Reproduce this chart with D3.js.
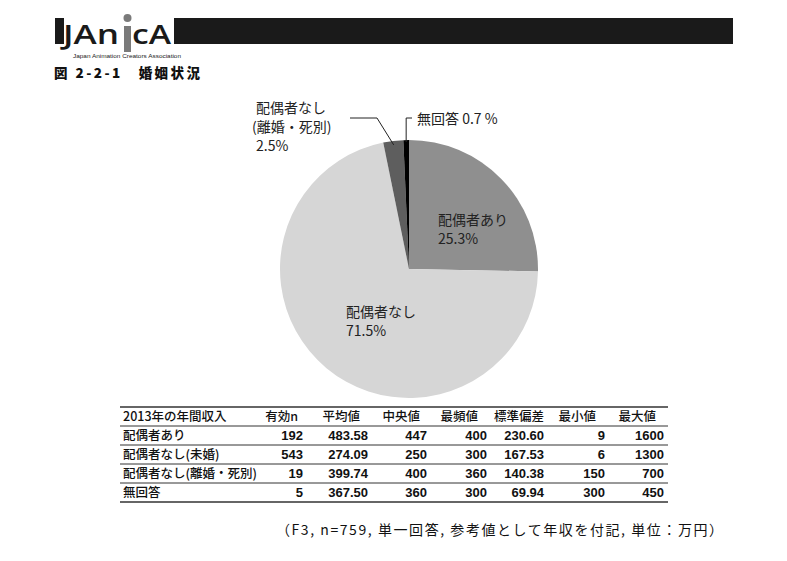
<!DOCTYPE html>
<html><head><meta charset="utf-8">
<script src="https://cdn.jsdelivr.net/npm/d3@7"></script>
<style>html,body{margin:0;padding:0;background:#fff;}svg{display:block;}</style>
</head><body>
<script>
// ---- data ----
const sliceLabels = ["配偶者あり", "配偶者なし", "配偶者なし\n(離婚・死別)", "無回答"];
const sliceValues = [25.3, 71.5, 2.5, 0.7];
const sliceColors = ["#8f8f8f", "#d6d6d6", "#5e5e5e", "#000000"];

const tableHeaders = ["2013年の年間収入", "有効n", "平均値", "中央値", "最頻値", "標準偏差", "最小値", "最大値"];
const rowLabels = ["配偶者あり", "配偶者なし(未婚)", "配偶者なし(離婚・死別)", "無回答"];
const colN      = ["192", "543", "19", "5"];
const colMean   = ["483.58", "274.09", "399.74", "367.50"];
const colMedian = ["447", "250", "400", "360"];
const colMode   = ["400", "300", "360", "300"];
const colSD     = ["230.60", "167.53", "140.38", "69.94"];
const colMin    = ["9", "6", "150", "300"];
const colMax    = ["1600", "1300", "700", "450"];

const titleText = "図 2-2-1　婚姻状況";
const noteText = "（F3, n=759, 単一回答, 参考値として年収を付記, 単位：万円）";

// ---- drawing ----
const W = 787, H = 561;
const svg = d3.select("body").append("svg").attr("width", W).attr("height", H);
const jp = "'Noto Sans CJK JP', 'Noto Sans', sans-serif";

// header logo + bar
const hdr = svg.append("g");
hdr.append("rect").attr("x", 55).attr("y", 18).attr("width", 9).attr("height", 26).attr("fill", "#1a1a1a");
hdr.append("rect").attr("x", 174).attr("y", 18).attr("width", 559).attr("height", 26).attr("fill", "#1a1a1a");
hdr.append("text").attr("x", 63).attr("y", 44).attr("font-family", "'Open Sans', sans-serif")
  .attr("font-size", 27).attr("font-weight", 600).attr("fill", "#1a1a1a")
  .attr("textLength", 56).attr("lengthAdjust", "spacingAndGlyphs").text("JAn");
hdr.append("rect").attr("x", 124).attr("y", 26).attr("width", 7).attr("height", 26).attr("fill", "#7a7a7a");
hdr.append("circle").attr("cx", 127.5).attr("cy", 18).attr("r", 4).attr("fill", "#7a7a7a");
hdr.append("text").attr("x", 132).attr("y", 44).attr("font-family", "'Open Sans', sans-serif")
  .attr("font-size", 27).attr("font-weight", 600).attr("fill", "#1a1a1a")
  .attr("textLength", 39).attr("lengthAdjust", "spacingAndGlyphs").text("cA");
hdr.append("text").attr("x", 73).attr("y", 58).attr("font-family", "'Liberation Sans Narrow', 'Liberation Sans', sans-serif")
  .attr("font-size", 6).attr("fill", "#222")
  .attr("textLength", 108).attr("lengthAdjust", "spacingAndGlyphs").text("Japan Animation Creators Association");

// title
svg.append("text").attr("x", 54).attr("y", 78).attr("font-family", jp).attr("font-weight", 900)
  .attr("font-size", 13.5).attr("fill", "#111").attr("textLength", 146).attr("lengthAdjust", "spacing").text(titleText);

// pie
const cx = 409, cy = 269, R = 129;
const pie = d3.pie().sort(null).value(d => d)(sliceValues);
const arc = d3.arc().innerRadius(0).outerRadius(R);
const pg = svg.append("g").attr("transform", `translate(${cx},${cy})`);
pg.selectAll("path").data(pie).join("path").attr("d", arc).attr("fill", (d, i) => sliceColors[i]);

const fmt = v => d3.format(".1f")(v) + "%";
const LF = 14;
// inside labels
const inside = [{i: 0, x: 438, y: 225}, {i: 1, x: 346, y: 317}];
inside.forEach(o => {
  const t = svg.append("text").attr("font-family", jp).attr("font-size", LF).attr("fill", "#222");
  t.append("tspan").attr("x", o.x).attr("y", o.y).text(sliceLabels[o.i]);
  t.append("tspan").attr("x", o.x).attr("y", o.y + 19).text(fmt(sliceValues[o.i]));
});

// outside label: 離婚・死別
const a2 = pie[2], m2 = (a2.startAngle + a2.endAngle) / 2;
const p2 = [cx + Math.sin(m2) * (R - 4), cy - Math.cos(m2) * (R - 4)];
svg.append("polyline").attr("points", `350,118 377,118 ${p2[0]},${p2[1]}`)
  .attr("fill", "none").attr("stroke", "#222").attr("stroke-width", 1);
const t2 = svg.append("text").attr("font-family", jp).attr("font-size", LF).attr("fill", "#222");
const l2 = sliceLabels[2].split("\n");
t2.append("tspan").attr("x", 256).attr("y", 113).text(l2[0]);
t2.append("tspan").attr("x", 252).attr("y", 132).text(l2[1]);
t2.append("tspan").attr("x", 256).attr("y", 151).text(fmt(sliceValues[2]));

// outside label: 無回答
const a3 = pie[3], m3 = (a3.startAngle + a3.endAngle) / 2;
const p3x = cx + Math.sin(m3) * R;
svg.append("polyline").attr("points", `412,118 ${p3x},118 ${p3x},${cy - R + 2}`)
  .attr("fill", "none").attr("stroke", "#222").attr("stroke-width", 1);
svg.append("text").attr("x", 417).attr("y", 124).attr("font-family", jp).attr("font-size", LF).attr("fill", "#222")
  .text(sliceLabels[3] + " " + d3.format(".1f")(sliceValues[3]) + " %");

// table
const tLeft = 120, tRight = 668;
const rowY = [407, 426, 445, 464, 483, 502];
const colRight = [null, 303, 368, 427, 487, 544, 605, 664];
const headRight = [null, 298, 360, 420, 478, 544, 596, 656];
const cols = [null, colN, colMean, colMedian, colMode, colSD, colMin, colMax];
const tg = svg.append("g");
rowY.forEach((y, i) => {
  tg.append("line").attr("x1", tLeft).attr("x2", tRight).attr("y1", y).attr("y2", y)
    .attr("stroke", "#333").attr("stroke-width", (i === 0 || i === rowY.length - 1) ? 1.5 : 1);
});
const tf = "'Noto Sans CJK JP', sans-serif";
const nf = "'Liberation Sans Narrow', 'Liberation Sans', sans-serif";
tableHeaders.forEach((h, j) => {
  const y = rowY[0] + 14;
  tg.append("text").attr("x", j === 0 ? 123 : headRight[j]).attr("y", y)
    .attr("text-anchor", j === 0 ? "start" : "end")
    .attr("font-family", tf).attr("font-weight", 500).attr("font-size", 12.5).attr("fill", "#111").text(h);
});
rowLabels.forEach((r, i) => {
  const y = rowY[i + 1] + 14;
  tg.append("text").attr("x", 123).attr("y", y).attr("font-family", tf).attr("font-weight", 500)
    .attr("font-size", 12.5).attr("fill", "#111").text(r);
  for (let j = 1; j < cols.length; j++) {
    tg.append("text").attr("x", colRight[j]).attr("y", y).attr("text-anchor", "end")
      .attr("font-family", nf).attr("font-weight", 700).attr("font-size", 13).attr("fill", "#111").text(cols[j][i]);
  }
});

// note
svg.append("text").attr("x", 276).attr("y", 535).attr("font-family", jp).attr("font-size", 14)
  .attr("fill", "#111").attr("textLength", 447).attr("lengthAdjust", "spacing").text(noteText);
</script>
</body></html>
